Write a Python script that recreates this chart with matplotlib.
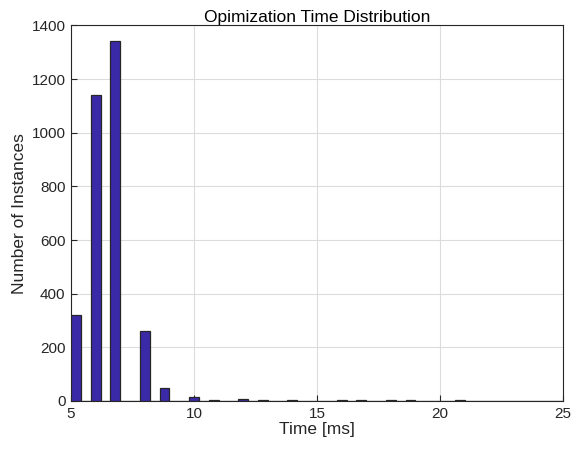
import matplotlib
matplotlib.use("Agg")
import matplotlib.pyplot as plt
import numpy as np

plt.rcParams['font.family'] = ['Liberation Sans', 'DejaVu Sans']

# Histogram: 50 bins of width 0.4 ms from 5 to 25 ms
bin_start = 5.0
bin_width = 0.4
n_bins = 50
# non-empty bins: index -> count
bin_index = [0, 2, 4, 7, 9, 12, 14, 17, 19, 22, 24, 27, 29, 32, 34, 37, 39, 42, 44, 47, 49]
bin_count = [322, 1140, 1343, 262, 47, 14, 2, 7, 2, 3, 1, 2, 5, 2, 2, 1, 2, 1, 1, 1, 1]

title = "Opimization Time Distribution"
xlabel = "Time [ms]"
ylabel = "Number of Instances"
xticks = [5, 10, 15, 20, 25]
yticks = [0, 200, 400, 600, 800, 1000, 1200, 1400]

counts = np.zeros(n_bins)
counts[bin_index] = bin_count
edges = bin_start + bin_width * np.arange(n_bins)

fig = plt.figure(figsize=(5.75, 4.55), dpi=100)
ax = fig.add_axes([0.1235, 0.1187, 0.9791 - 0.1235, 0.944 - 0.1187])

ax.bar(edges, counts, width=bin_width, align='edge',
       color='#3b2aa8', edgecolor='#262626', linewidth=0.9, zorder=3)

ax.set_xlim(5, 25)
ax.set_ylim(0, 1400)
ax.set_xticks(xticks)
ax.set_yticks(yticks)
ax.grid(True, color='#dcdcdc', linewidth=0.8, zorder=0)
ax.set_axisbelow(True)
ax.tick_params(direction='in', length=4, width=0.8, labelsize=11, colors='#262626',
               top=False, right=False, pad=4)
for s in ax.spines.values():
    s.set_color('#262626')
    s.set_linewidth(0.8)

ax.set_title(title, fontsize=12.5, pad=2, color='black')
ax.set_xlabel(xlabel, fontsize=12.5, labelpad=1, color='#262626')
ax.set_ylabel(ylabel, fontsize=12.5, labelpad=3, color='#262626')

fig.savefig("out.png", dpi=100)
